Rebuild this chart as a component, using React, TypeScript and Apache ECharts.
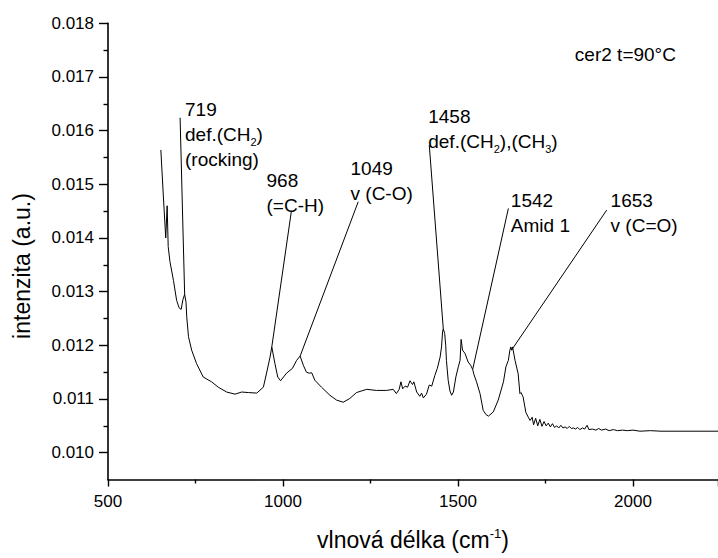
import React, { useEffect, useRef } from 'react';
import * as echarts from 'echarts';

const FONT = '"Liberation Sans", Arial, Helvetica, sans-serif';

// IR spectrum of cer2 at 90 °C
const wavenumber = [
  651, 658, 665, 669, 672, 677, 687, 696, 703, 709, 714, 719, 723, 725, 730, 739, 753, 772, 796, 815,
  839, 863, 882, 901, 925, 944, 955, 963, 968, 977, 985, 993, 1010, 1027, 1039, 1049, 1058, 1067, 1075, 1082,
  1091, 1110, 1134, 1153, 1172, 1191, 1210, 1239, 1267, 1296, 1315, 1324, 1332, 1337, 1342, 1349, 1356, 1363, 1370, 1374,
  1382, 1391, 1396, 1401, 1410, 1418, 1425, 1434, 1441, 1449, 1453, 1456, 1458, 1462, 1465, 1467, 1472, 1477, 1482, 1487,
  1494, 1501, 1506, 1509, 1513, 1520, 1529, 1536, 1542, 1546, 1553, 1563, 1572, 1580, 1587, 1601, 1615, 1630, 1637, 1644,
  1648, 1651, 1653, 1656, 1663, 1672, 1677, 1680, 1686, 1694, 1701, 1706, 1712, 1716, 1722, 1728, 1734, 1740, 1746, 1752,
  1758, 1764, 1770, 1776, 1782, 1788, 1794, 1800, 1806, 1812, 1818, 1824, 1830, 1836, 1842, 1848, 1856, 1862, 1869, 1874,
  1884, 1894, 1902, 1910, 1922, 1932, 1944, 1956, 1970, 1984, 2000, 2020, 2050, 2080, 2120, 2160, 2200, 2243,
];

const intensity = [
  0.01564, 0.0148, 0.014, 0.0146, 0.01384, 0.01356, 0.01321, 0.01284, 0.0127, 0.01267, 0.01285, 0.01295, 0.0128, 0.01253, 0.01216, 0.01191, 0.01166, 0.01141, 0.01132, 0.01122,
  0.01113, 0.01109, 0.01113, 0.01112, 0.01111, 0.01122, 0.01154, 0.01178, 0.01197, 0.01166, 0.01141, 0.01134, 0.01148, 0.01157, 0.01172, 0.0118, 0.01163, 0.0115, 0.01148, 0.01149,
  0.01135, 0.01122, 0.01107, 0.01098, 0.01094, 0.01101, 0.01112, 0.01118, 0.01116, 0.01116, 0.01118, 0.0111, 0.01118, 0.01132, 0.01119, 0.01124, 0.01122, 0.01134, 0.01127, 0.01132,
  0.01113, 0.01105, 0.01111, 0.01102, 0.01109, 0.01126, 0.01124, 0.01144, 0.01157, 0.01178, 0.01197, 0.01225, 0.01231, 0.01222, 0.012, 0.01172, 0.01135, 0.01115, 0.01107, 0.01113,
  0.01141, 0.0116, 0.01172, 0.01211, 0.01191, 0.01185, 0.01169, 0.01163, 0.01155, 0.01145, 0.01132, 0.0111, 0.01079, 0.01071, 0.01068, 0.01076, 0.01098, 0.01132, 0.0116, 0.01172,
  0.0119, 0.01197, 0.01191, 0.01197, 0.01172, 0.01147, 0.0111, 0.01112, 0.01104, 0.01075, 0.01066, 0.0106, 0.01066, 0.01052, 0.01064, 0.0105, 0.01062, 0.01049, 0.01058, 0.0105,
  0.01055, 0.01048, 0.01054, 0.01047, 0.0105, 0.01046, 0.01051, 0.01046, 0.01048, 0.01045, 0.01049, 0.01045, 0.01046, 0.01044, 0.01047, 0.01043, 0.01046, 0.01044, 0.01051, 0.01043,
  0.01044, 0.01042, 0.01045, 0.01042, 0.01044, 0.01041, 0.01043, 0.01041, 0.01042, 0.01041, 0.01042, 0.0104, 0.01041, 0.0104, 0.0104, 0.0104, 0.0104, 0.0104,
];

const xTicks = [500, 1000, 1500, 2000];
const yTicks = [0.01, 0.011, 0.012, 0.013, 0.014, 0.015, 0.016, 0.017, 0.018];
const yMinorTicks = [0.0105, 0.0115, 0.0125, 0.0135, 0.0145, 0.0155, 0.0165, 0.0175];
const yTitle = 'intenzita (a.u.)';

// Band assignments: peak wavenumber, text lines, text corner and leader start (axis units)
const bandPeaks = [719, 968, 1049, 1458, 1542, 1653];
const bandTexts = [
  ['719', 'def.(CH{sub|2})', '(rocking)'],
  ['968', '(=C-H)'],
  ['1049', 'v (C-O)'],
  ['1458', 'def.(CH{sub|2}),(CH{sub|3})'],
  ['1542', 'Amid 1'],
  ['1653', 'v (C=O)'],
];
const bandTextAt = [
  [720, 0.01662], [953, 0.0153], [1193, 0.01553], [1415, 0.01649], [1651, 0.01494], [1936, 0.01494],
];
const bandLeaderFrom = [
  [706, 0.01624], [1024, 0.0145], [1215, 0.014675], [1418, 0.01573], [1644, 0.01455], [1925, 0.01452],
];
const sampleNote = 'cer2 t=90°C';
const sampleNoteAt = [1834, 0.01766];

export default function App() {
  const ref = useRef<HTMLDivElement>(null);

  useEffect(() => {
    const chart = echarts.init(ref.current!, null, { renderer: 'svg' });
    const black = '#000';
    chart.setOption({
      animation: false,
      backgroundColor: '#fff',
      grid: { left: 108, right: 0, top: 23.3, bottom: 78.5, containLabel: false },
      xAxis: {
        type: 'value',
        min: 500,
        max: 2243,
        interval: 500,
        name: '{a|vlnová délka (cm}{sup|-1}{a|)}',
        nameLocation: 'middle',
        nameGap: 47,
        nameTextStyle: {
          color: black,
          fontFamily: FONT,
          fontSize: 23,
          rich: {
            a: { fontFamily: FONT, fontSize: 23, color: black, lineHeight: 27 },
            sup: { fontFamily: FONT, fontSize: 13, color: black, lineHeight: 13, verticalAlign: 'top' },
          },
        },
        axisLine: { lineStyle: { color: black, width: 1.6 } },
        axisTick: { inside: false, length: 7, lineStyle: { color: black, width: 1.4 } },
        minorTick: { show: true, splitNumber: 2, length: 4, lineStyle: { color: black, width: 1.4 } },
        axisLabel: {
          color: black,
          fontFamily: FONT,
          fontSize: 17,
          margin: 13,
          customValues: xTicks,
          formatter: (v: number) => String(v),
        },
        splitLine: { show: false },
        minorSplitLine: { show: false },
      },
      yAxis: [
        {
          type: 'value',
          min: 0.0095,
          max: 0.018,
          axisLine: { show: true, lineStyle: { color: black, width: 1.6 } },
          axisTick: { inside: false, length: 9, customValues: yTicks, lineStyle: { color: black, width: 1.4 } },
          axisLabel: {
            color: black,
            fontFamily: FONT,
            fontSize: 17,
            margin: 14,
            customValues: yTicks,
            formatter: (v: number) => v.toFixed(3),
          },
          splitLine: { show: false },
        },
        {
          type: 'value',
          min: 0.0095,
          max: 0.018,
          position: 'left',
          axisLine: { show: false },
          axisTick: { show: true, inside: false, length: 4.5, customValues: yMinorTicks, lineStyle: { color: black, width: 1.4 } },
          axisLabel: { show: false },
          splitLine: { show: false },
        },
      ],
      series: [
        {
          type: 'line',
          xAxisIndex: 0,
          yAxisIndex: 0,
          data: wavenumber.map((w, i) => [w, intensity[i]]),
          showSymbol: false,
          symbol: 'none',
          lineStyle: { color: black, width: 1 },
          silent: true,
        },
      ],
    });

    const toPx = (p: number[]) => chart.convertToPixel({ xAxisIndex: 0, yAxisIndex: 0 }, p) as number[];
    const textStyle = {
      fontFamily: FONT,
      fontSize: 19,
      fill: black,
      lineHeight: 25,
      verticalAlign: 'top',
      align: 'left',
      rich: {
        sub: { fontFamily: FONT, fontSize: 11, lineHeight: 8, verticalAlign: 'bottom', fill: black },
      },
    };

    const elements: any[] = [];
    bandPeaks.forEach((w, i) => {
      const from = toPx(bandLeaderFrom[i]);
      const to = toPx([w, intensity[wavenumber.indexOf(w)]]);
      elements.push({
        type: 'line',
        silent: true,
        shape: { x1: from[0], y1: from[1], x2: to[0], y2: to[1] },
        style: { stroke: black, lineWidth: 1 },
      });
      const at = toPx(bandTextAt[i]);
      elements.push({
        type: 'text',
        silent: true,
        x: at[0],
        y: at[1],
        style: { ...textStyle, text: bandTexts[i].join('\n') },
      });
    });
    const noteAt = toPx(sampleNoteAt);
    elements.push({
      type: 'text',
      silent: true,
      x: noteAt[0],
      y: noteAt[1],
      style: { ...textStyle, text: sampleNote },
    });
    // vertical axis title, left of the tick labels
    elements.push({
      type: 'text',
      silent: true,
      x: 22,
      y: 266,
      rotation: Math.PI / 2,
      style: {
        text: yTitle,
        fontFamily: FONT,
        fontSize: 23,
        fill: black,
        align: 'center',
        verticalAlign: 'middle',
      },
    });
    chart.setOption({ graphic: elements });

    return () => chart.dispose();
  }, []);

  return <div ref={ref} style={{ position: 'fixed', left: 0, top: 0, width: 718, height: 558 }} />;
}
